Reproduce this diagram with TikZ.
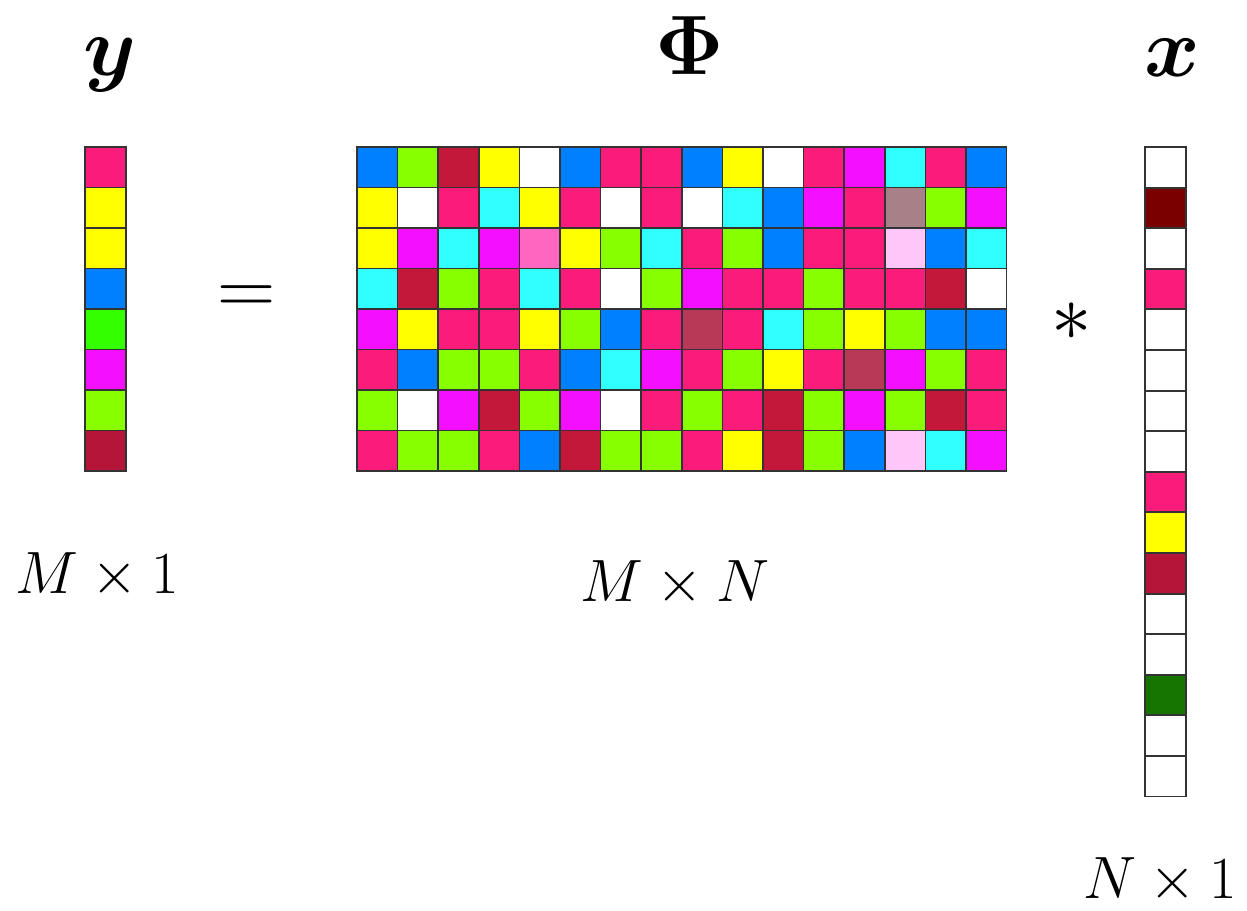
\RequirePackage{fix-cm}
\documentclass[tikz,border=0pt]{standalone}
\usepackage{amsmath}
\usepackage{bm}
\usepackage{tikz}

% cell colours
\definecolor{cB}{HTML}{0080FF}
\definecolor{cG}{HTML}{88FF00}
\definecolor{cR}{HTML}{C4183A}
\definecolor{cY}{HTML}{FFFF00}
\definecolor{cW}{HTML}{FFFFFF}
\definecolor{cP}{HTML}{FA1C7A}
\definecolor{cM}{HTML}{F40FFF}
\definecolor{cC}{HTML}{30FFFF}
\definecolor{cL}{HTML}{FF66C0}
\definecolor{cT}{HTML}{A88088}
\definecolor{cV}{HTML}{FFC6FA}
\definecolor{cD}{HTML}{B83858}
\definecolor{cE}{HTML}{33FF00}
\definecolor{cS}{HTML}{B51538}
\definecolor{cK}{HTML}{7A0000}
\definecolor{cF}{HTML}{167500}

\begin{document}
\begin{tikzpicture}[
      x=0.02cm, y=-0.02cm,
      cell/.style={draw=black!80, line width=1pt, inner sep=0pt, outer sep=0pt,
        minimum width=0.812cm, minimum height=0.81cm},
      head/.style={font=\fontsize{48}{56}\selectfont, anchor=base, inner sep=0pt},
      dims/.style={font=\fontsize{34}{40}\selectfont, anchor=base, inner sep=0pt},
      op/.style={font=\fontsize{46}{54}\selectfont, inner sep=0pt}
    ]
    \useasboundingbox (0,0) rectangle (1247,911);

    % measurement vector y
    \foreach \c [count=\i] in {P,Y,Y,B,E,M,G,S}
      \node[cell, fill=c\c] (y-\i) at (105.5,{147+40.5*(\i-0.5)}) {};

    % sensing matrix Phi
    \foreach \row [count=\i] in {
        {B,G,R,Y,W,B,P,P,B,Y,W,P,M,C,P,B},
        {Y,W,P,C,Y,P,W,P,W,C,B,M,P,T,G,M},
        {Y,M,C,M,L,Y,G,C,P,G,B,P,P,V,B,C},
        {C,R,G,P,C,P,W,G,M,P,P,G,P,P,R,W},
        {M,Y,P,P,Y,G,B,P,D,P,C,G,Y,G,B,B},
        {P,B,G,G,P,B,C,M,P,G,Y,P,D,M,G,P},
        {G,W,M,R,G,M,W,P,G,P,R,G,M,G,R,P},
        {P,G,G,P,B,R,G,G,P,Y,R,G,B,V,C,M}}
      \foreach \c [count=\j] in \row
        \node[cell, fill=c\c] (phi-\i-\j) at ({357+40.6*(\j-0.5)},{147+40.5*(\i-0.5)}) {};

    % sparse vector x
    \foreach \c [count=\i] in {W,K,W,P,W,W,W,W,P,Y,S,W,W,F,W,W}
      \node[cell, fill=c\c] (x-\i) at (1165.5,{147+40.6*(\i-0.5)}) {};

    % names
    \node[head] (ylab) at (110,76) {$\bm{y}$};
    \node[head] (philab) at (690,75) {$\bm{\Phi}$};
    \node[head] (xlab) at (1172,77) {$\bm{x}$};

    % operators
    \node[op] (eq) at (247,300) {$=$};
    \node[op] (times) at (1072,322) {$*$};

    % sizes
    \node[dims] (ydim) at (97,594) {$M\times 1$};
    \node[dims] (phidim) at (675,602) {$M\times N$};
    \node[dims] (xdim) at (1160,898) {$N\times 1$};
  \end{tikzpicture}
\end{document}
